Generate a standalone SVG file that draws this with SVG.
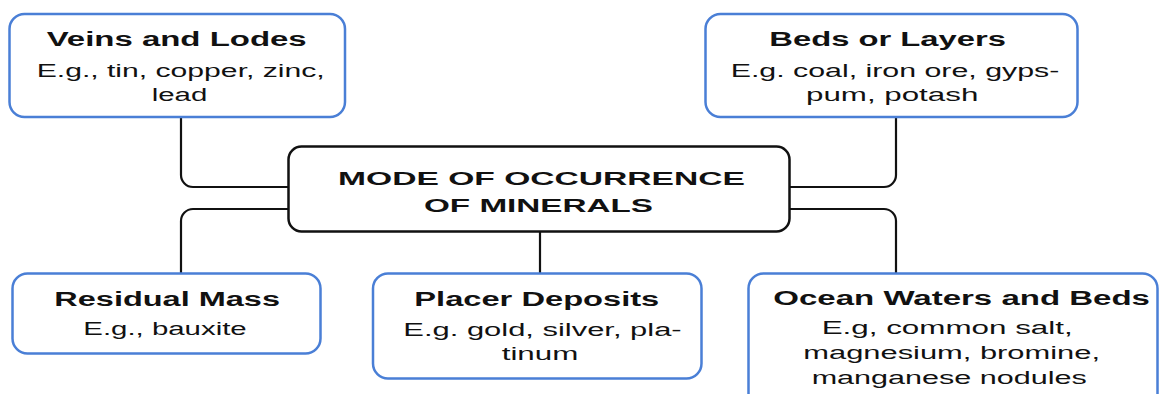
<svg xmlns="http://www.w3.org/2000/svg" width="1160" height="394" viewBox="0 0 1160 394">
<style>
.bg{fill:#ffffff}
.node{fill:#ffffff;stroke:#4a7fd6;stroke-width:2.5}
.center{fill:#ffffff;stroke:#111111;stroke-width:2.5}
.conn{fill:none;stroke:#111111;stroke-width:2.2}
.t{font-family:"Liberation Sans",Arial,sans-serif;font-weight:bold;font-size:20px;fill:#111111}
.s{font-family:"Liberation Sans",Arial,sans-serif;font-size:18px;fill:#111111}
.c{font-family:"Liberation Sans",Arial,sans-serif;font-weight:bold;font-size:19px;fill:#111111}
</style>
<rect class="bg" x="0" y="0" width="1160" height="394"/>
<g id="connectors">
<path class="conn" d="M181 117 V175 A12 12 0 0 0 193 187 H289"/>
<path class="conn" d="M289 209 H193 A12 12 0 0 0 181 221 V273"/>
<path class="conn" d="M540 232 V273"/>
<path class="conn" d="M896 117 V175 A12 12 0 0 1 884 187 H790"/>
<path class="conn" d="M790 209 H884 A12 12 0 0 1 896 221 V273"/>
</g>
<g id="center">
<rect class="center" x="288.5" y="146.5" width="501" height="85" rx="13"/>
<text class="c" x="338" y="184.5" textLength="407" lengthAdjust="spacingAndGlyphs">MODE OF OCCURRENCE</text>
<text class="c" x="424" y="211.5" textLength="229" lengthAdjust="spacingAndGlyphs">OF MINERALS</text>
</g>
<g id="veins">
<rect class="node" x="9.5" y="14" width="335.5" height="103" rx="15"/>
<text class="t" x="46.7" y="45.7" textLength="260" lengthAdjust="spacingAndGlyphs">Veins and Lodes</text>
<text class="s" x="36.7" y="77.3" textLength="288" lengthAdjust="spacingAndGlyphs">E.g., tin, copper, zinc,</text>
<text class="s" x="151.7" y="101" textLength="55.6" lengthAdjust="spacingAndGlyphs">lead</text>
</g>
<g id="beds">
<rect class="node" x="705.5" y="14" width="372" height="103" rx="15"/>
<text class="t" x="769.3" y="46" textLength="236.7" lengthAdjust="spacingAndGlyphs">Beds or Layers</text>
<text class="s" x="730.7" y="77.3" textLength="328.6" lengthAdjust="spacingAndGlyphs">E.g. coal, iron ore, gyps-</text>
<text class="s" x="806" y="101" textLength="172.3" lengthAdjust="spacingAndGlyphs">pum, potash</text>
</g>
<g id="residual">
<rect class="node" x="12.5" y="273.5" width="308" height="80" rx="15"/>
<text class="t" x="54.3" y="306" textLength="225.7" lengthAdjust="spacingAndGlyphs">Residual Mass</text>
<text class="s" x="83.3" y="335" textLength="163.4" lengthAdjust="spacingAndGlyphs">E.g., bauxite</text>
</g>
<g id="placer">
<rect class="node" x="373" y="273.5" width="328.5" height="105" rx="15"/>
<text class="t" x="414.3" y="306" textLength="245" lengthAdjust="spacingAndGlyphs">Placer Deposits</text>
<text class="s" x="403.3" y="336" textLength="278.4" lengthAdjust="spacingAndGlyphs">E.g. gold, silver, pla-</text>
<text class="s" x="501.7" y="360" textLength="76.6" lengthAdjust="spacingAndGlyphs">tinum</text>
</g>
<g id="ocean">
<rect class="node" x="748.5" y="273.5" width="409" height="140" rx="15"/>
<text class="t" x="773.3" y="305" textLength="376.7" lengthAdjust="spacingAndGlyphs">Ocean Waters and Beds</text>
<text class="s" x="821.7" y="334" textLength="251" lengthAdjust="spacingAndGlyphs">E.g, common salt,</text>
<text class="s" x="803.3" y="359" textLength="296.7" lengthAdjust="spacingAndGlyphs">magnesium, bromine,</text>
<text class="s" x="811.7" y="384" textLength="275" lengthAdjust="spacingAndGlyphs">manganese nodules</text>
</g>
</svg>
